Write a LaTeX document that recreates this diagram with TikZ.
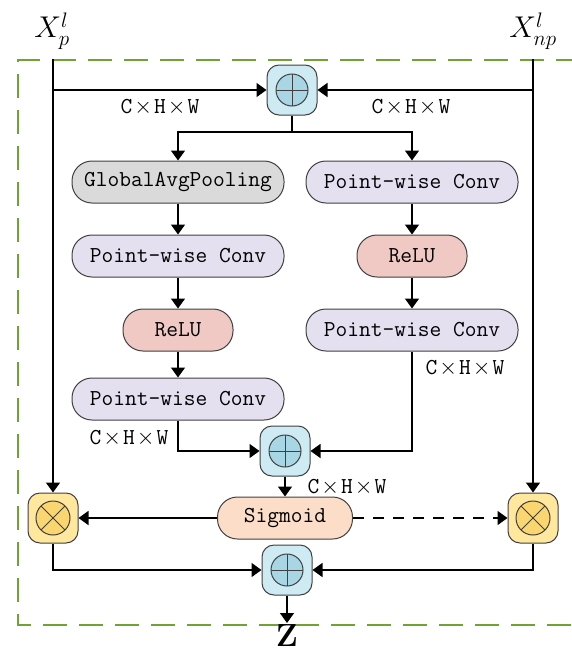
\documentclass[tikz,border=0pt]{standalone}
\usepackage{fix-cm}
\usepackage{fontspec}
\usetikzlibrary{arrows.meta}

\definecolor{frameGreen}{RGB}{112,163,52}
\definecolor{addFill}{RGB}{206,234,242}
\definecolor{addCirc}{RGB}{168,214,229}
\definecolor{mulFill}{RGB}{255,231,158}
\definecolor{mulCirc}{RGB}{250,214,112}
\definecolor{poolFill}{RGB}{218,218,218}
\definecolor{convFill}{RGB}{229,224,240}
\definecolor{reluFill}{RGB}{240,200,196}
\definecolor{sigFill}{RGB}{252,222,200}

\newcommand{\chw}{C\kern2pt$\times$\kern2pt H\kern2pt$\times$\kern2pt W}

\tikzset{
  block/.style={draw=black!75, line width=1pt, rounded corners=20pt,
    minimum height=42pt, minimum width=212pt, inner sep=0pt,
    font=\ttfamily\fontsize{22.8}{26}\selectfont},
  opbox/.style={draw=black!75, line width=1pt, rounded corners=12pt,
    minimum size=50pt, inner sep=0pt},
  addop/.style={opbox, fill=addFill, path picture={
    \draw[line width=1pt, fill=addCirc] (path picture bounding box.center) circle (16pt);
    \draw[line width=1pt] ([xshift=-16pt]path picture bounding box.center) -- ([xshift=16pt]path picture bounding box.center)
      ([yshift=-16pt]path picture bounding box.center) -- ([yshift=16pt]path picture bounding box.center);}},
  mulop/.style={opbox, fill=mulFill, path picture={
    \draw[line width=1pt, fill=mulCirc] (path picture bounding box.center) circle (17pt);
    \draw[line width=1pt] ([shift={(-12pt,-12pt)}]path picture bounding box.center) -- ([shift={(12pt,12pt)}]path picture bounding box.center)
      ([shift={(-12pt,12pt)}]path picture bounding box.center) -- ([shift={(12pt,-12pt)}]path picture bounding box.center);}},
  dimtext/.style={font=\ttfamily\fontsize{22.8}{26}\selectfont, inner sep=1pt},
  flow/.style={line width=1.5pt, -{Triangle[length=10pt,width=14pt]}}
}

\begin{document}
\begin{tikzpicture}[x=1pt, y=-1pt]
  \useasboundingbox (0,0) rectangle (571,648);
  % frame
  \draw[frameGreen, line width=2.5pt, dash pattern=on 24pt off 12pt]
    (580,60) -- (18,60) -- (18,625) -- (580,625);

  % inputs
  \node[font=\fontsize{30}{34}\selectfont] (xp) at (52,31) {$X_p^l$};
  \node[font=\fontsize{30}{34}\selectfont] (xnp) at (533,31) {$X_{np}^l$};
  \coordinate (pinL) at (53,59);
  \coordinate (pinR) at (533,59);

  % operators
  \node[addop] (addT) at (292,90) {};
  \node[addop] (addM) at (285,451) {};
  \node[addop] (addB) at (287,570) {};
  \node[mulop] (mulL) at (53,518) {};
  \node[mulop] (mulR) at (533,518) {};

  % left branch
  \node[block, fill=poolFill] (gap) at (178,182) {GlobalAvgPooling};
  \node[block, fill=convFill] (pwL1) at (178,256) {Point-wise Conv};
  \node[block, fill=reluFill, minimum width=110pt] (reluL) at (178,330) {ReLU};
  \node[block, fill=convFill] (pwL2) at (178,399) {Point-wise Conv};
  % right branch
  \node[block, fill=convFill] (pwR1) at (412,182) {Point-wise Conv};
  \node[block, fill=reluFill, minimum width=110pt] (reluR) at (412,256) {ReLU};
  \node[block, fill=convFill] (pwR2) at (412,330) {Point-wise Conv};

  \node[block, fill=sigFill, minimum width=135pt] (sig) at (285,518) {Sigmoid};
  \node[font=\bfseries\fontsize{32}{32}\selectfont, anchor=north, inner sep=1pt] (zout) at (287,623) {Z};

  % sizes
  \node[dimtext] (dimA) at (160,107) {\chw};
  \node[dimtext] (dimB) at (411,107) {\chw};
  \node[dimtext] (dimC) at (465,368) {\chw};
  \node[dimtext] (dimD) at (129,438) {\chw};
  \node[dimtext] (dimE) at (347,487) {\chw};

  % connections
  \coordinate (split) at (292,132);
  \draw[flow] (pinL) -- (mulL);
  \draw[flow] (pinR) -- (mulR);
  \draw[flow] (pinL |- addT) -- (addT);
  \draw[flow] (pinR |- addT) -- (addT);
  \draw[line width=1.5pt] (addT) -- (split);
  \draw[flow] (split) -| (gap);
  \draw[flow] (split) -| (pwR1);
  \draw[flow] (gap) -- (pwL1);
  \draw[flow] (pwL1) -- (reluL);
  \draw[flow] (reluL) -- (pwL2);
  \draw[flow] (pwR1) -- (reluR);
  \draw[flow] (reluR) -- (pwR2);
  \draw[flow] (pwL2) |- (addM);
  \draw[flow] (pwR2) |- (addM);
  \draw[flow] (addM) -- (sig);
  \draw[flow] (sig) -- (mulL);
  \draw[flow, dash pattern=on 11pt off 9pt] (sig) -- (mulR);
  \draw[flow] (mulL) |- (addB);
  \draw[flow] (mulR) |- (addB);
  \draw[flow] (addB) -- (zout);
\end{tikzpicture}
\end{document}
